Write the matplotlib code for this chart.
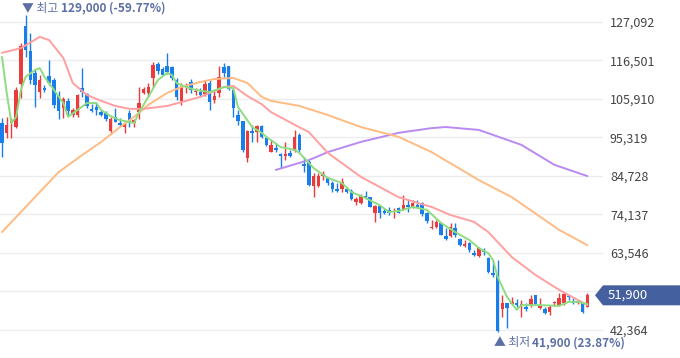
import matplotlib
matplotlib.use("Agg")
import matplotlib.pyplot as plt
from matplotlib.patches import Polygon
from matplotlib import transforms as mtransforms

plt.rcParams['font.family'] = ['Noto Sans CJK KR', 'DejaVu Sans']

# ---------------- data (daily OHLC) ----------------
opens = [99300, 96600, 99300, 98200, 110000, 126000, 119100, 113100, 107800, 108900,
         112200, 111100, 107000, 103400, 105400, 101500, 101500, 108900, 107300, 103200,
         103700, 102300, 102100, 97100, 101000, 99300, 98200, 102100, 99300, 102300,
         107600, 107600, 111700, 115500, 114200, 115000, 114700, 111100, 105400, 109200,
         110600, 107800, 107800, 107300, 110300, 105600, 107600, 114700, 115000, 108400,
         101500, 99900, 89700, 97100, 96800, 98500, 95200, 91300, 92400, 90800,
         90200, 91100, 91600, 96000, 88000, 88600, 82000, 82000, 84700, 84200,
         82800, 81200, 81200, 81200, 80600, 77600, 77300, 79200, 78900, 74500,
         76500, 75100, 75400, 74800, 75900, 75600, 76700, 76200, 76700, 77300,
         74500, 70400, 70700, 71800, 68200, 68200, 70400, 67400, 65500, 66300,
         63500, 62700, 64400, 62200, 58000, 57800, 48100, 49800, 49500, 49800,
         49000, 48700, 49000, 52000, 48400, 48100, 47300, 49800, 49200, 49800,
         51700, 50100, 49800, 49800, 48700]
highs = [100700, 101000, 100700, 109200, 121300, 129000, 124100, 113900, 112500, 109800,
         116600, 111700, 108100, 106500, 106200, 103400, 107300, 114400, 107600, 104500,
         104800, 102900, 102600, 101000, 103400, 100700, 99600, 102900, 100400, 109200,
         109200, 110300, 116100, 116100, 114700, 118600, 115000, 111700, 110300, 110300,
         111400, 108900, 108900, 111100, 111100, 108400, 115000, 115800, 115000, 108900,
         102900, 99900, 97400, 98800, 98800, 98800, 95700, 94600, 93800, 91100,
         94100, 91900, 97400, 96600, 90000, 89100, 85600, 85600, 86100, 84500,
         83400, 82800, 84200, 81700, 81200, 78900, 79800, 80600, 78900, 76700,
         76700, 75900, 76200, 75900, 76200, 79500, 78400, 78100, 78100, 77600,
         74800, 72600, 72600, 71800, 70400, 71800, 71800, 67700, 67100, 66600,
         64400, 65200, 64900, 62400, 61600, 61600, 52000, 49800, 51400, 50900,
         50600, 49800, 52000, 52000, 51200, 48700, 49200, 50300, 52500, 52500,
         52000, 51200, 50600, 50100, 52500]
lows = [90000, 95200, 95200, 97900, 106200, 117500, 110000, 103700, 106200, 107800,
        109800, 103400, 100400, 100700, 101500, 101000, 101000, 106500, 103400, 102300,
        101500, 101200, 99900, 96300, 99600, 98500, 96600, 98200, 98200, 100400,
        107300, 106500, 109200, 112800, 112500, 112800, 111100, 105600, 104300, 107600,
        107600, 107000, 106500, 106700, 102900, 104800, 106500, 112000, 108400, 101000,
        98800, 91300, 88600, 94100, 94100, 95200, 93000, 91300, 91300, 86900,
        89100, 90000, 91300, 91300, 85800, 82000, 78900, 81700, 83600, 82300,
        80300, 80300, 80300, 80100, 78100, 76700, 77000, 78400, 76200, 72100,
        73200, 74300, 74000, 73200, 74500, 75400, 74800, 75900, 76200, 73700,
        71800, 70100, 70400, 68500, 67100, 67900, 67900, 65500, 65200, 63800,
        62700, 62400, 63000, 58000, 56900, 41900, 45900, 42900, 49200, 48700,
        45900, 47600, 48700, 49200, 48100, 46800, 46500, 49000, 49000, 49200,
        50600, 49500, 49500, 47000, 48700]
closes = [93800, 98800, 100100, 108400, 120500, 119400, 111100, 109800, 111100, 108400,
          110300, 104300, 102600, 105900, 102600, 102900, 107000, 107800, 104000, 102600,
          102900, 101500, 100400, 100400, 99600, 98800, 98800, 99600, 100100, 104800,
          108700, 109200, 115300, 113600, 112500, 113300, 111700, 106500, 109500, 109500,
          108400, 108100, 107000, 110000, 105100, 106700, 112000, 113100, 108700, 103400,
          99900, 91900, 97100, 96600, 98500, 95500, 93300, 93300, 91900, 90200,
          90800, 90200, 95500, 91900, 87500, 82300, 84700, 84700, 85300, 82800,
          81200, 80600, 83100, 80300, 78400, 78400, 79200, 78700, 76200, 76500,
          74500, 74500, 74500, 75100, 74500, 76700, 76200, 77300, 76200, 74300,
          72300, 70700, 72100, 68500, 67400, 70700, 68500, 65700, 66000, 64400,
          63000, 64900, 63800, 58300, 57500, 42100, 49800, 48400, 50100, 49200,
          49500, 48100, 50900, 49500, 49200, 47000, 48700, 50100, 51200, 52300,
          51400, 49800, 50100, 47300, 51900]

# moving averages (day index, price)
ma5_idx = [0, 1, 2, 3, 4, 5, 7, 8, 9, 11, 13, 14, 16, 18, 20, 21, 23, 25, 28, 29,
           31, 33, 35, 36, 37, 39, 41, 44, 47, 49, 50, 53, 55, 56, 59, 62, 63, 66, 69, 72,
           74, 77, 80, 82, 84, 87, 90, 93, 96, 99, 101, 103, 104, 105, 107, 109, 110, 114,
           118, 120, 122, 124]
ma5_val = [117500, 107600, 99300, 101000, 108400, 112000, 113900, 114400, 112000, 108400,
           104800, 101000, 102900, 104800, 104800, 102900, 101200, 100100, 99300, 102100,
           106500, 111100, 113100, 112500, 110300, 109200, 108400, 107800, 109200, 108900,
           103700, 98200, 96600, 95500, 92700, 91900, 91100, 86900, 84200, 82800,
           80300, 78700, 76700, 74800, 75100, 76200, 75400, 71800, 69300, 67100,
           64900, 63500, 61600, 56900, 51400, 47900, 49200, 49200, 49000, 50100,
           50100, 49500]
ma20_idx = [0, 4, 8, 10, 13, 15, 18, 21, 24, 27, 30, 35, 39, 42, 45, 47, 49, 52, 55, 57,
            62, 65, 69, 76, 84, 91, 95, 100, 103, 108, 113, 118, 122, 124]
ma20_val = [118600, 119900, 123000, 122100, 117200, 110300, 107000, 105400, 104000, 103200,
            103200, 104000, 105400, 106500, 108100, 109200, 109500, 106700, 104500, 102300,
            98800, 96800, 91100, 84500, 78900, 76200, 74000, 72100, 69300, 62400,
            57500, 53400, 50600, 49200]
ma60_idx = [0, 4, 8, 12, 17, 21, 25, 28, 31, 35, 38, 42, 45, 49, 52, 55, 57, 63, 69, 76,
            84, 91, 101, 108, 118, 124]
ma60_val = [69300, 74800, 80300, 85800, 90500, 94100, 98200, 101000, 104300, 107600,
            109200, 110600, 111400, 111700, 110300, 106500, 105400, 104000, 101500, 98200,
            95500, 91300, 83600, 78900, 69900, 65700]
ma120_idx = [58, 65, 69, 76, 84, 91, 94, 101, 110, 117, 124]
ma120_val = [86400, 89100, 91300, 94100, 96600, 97900, 98200, 97400, 93300, 87800, 84700]

ytick_vals = [127092, 116501, 105910, 95319, 84728, 74137, 63546, 52955, 42364]

# ---------------- figure ----------------
W, H = 680, 358
fig = plt.figure(figsize=(W / 100, H / 100), dpi=100)
fig.patch.set_facecolor('white')
ax = fig.add_axes([0, (H - 340) / H, 603 / W, 340 / H])
ax.set_facecolor('white')

RED = '#ec3b3b'
BLUE = '#1a7dec'

n = len(closes)
xs = list(range(n))
for i in xs:
    o, h, l, c = opens[i], highs[i], lows[i], closes[i]
    col = RED if c >= o else BLUE
    ax.vlines(i, l, h, color=col, lw=1.0, zorder=2)
    lo, hi = min(o, c), max(o, c)
    ax.bar(i, max(hi - lo, 250), bottom=lo, width=0.74, color=col, lw=0, zorder=2)

line_kw = dict(lw=1.4, zorder=3, solid_joinstyle='round', solid_capstyle='round')
ax.plot(ma120_idx, ma120_val, color='#b98af2', **line_kw)
ax.plot(ma60_idx, ma60_val, color='#ffbb82', **line_kw)
ax.plot(ma20_idx, ma20_val, color='#ff9f9f', **line_kw)
ax.plot(ma5_idx, ma5_val, color='#8ddd80', **line_kw)

ax.set_xlim(-0.42, 127.3)
ax.set_ylim(39610, 133144)

ax.set_yticks(ytick_vals)
ax.set_yticklabels(['' if v == 52955 else f'{v:,}' for v in ytick_vals])
ax.yaxis.tick_right()
ax.tick_params(axis='y', length=0, pad=5, labelsize=9, labelcolor='#444444')
ax.set_xticks([])
ax.grid(axis='y', color='#ececec', lw=1)
ax.set_axisbelow(True)
for s in ax.spines.values():
    s.set_visible(False)

# high / low annotations
ih = max(range(n), key=lambda i: highs[i])
il = min(range(n), key=lambda i: lows[i])
hv, lv, last = highs[ih], lows[il], closes[-1]
ANN = '#5b6ea6'
t1 = ax.annotate('▼ 최고 ', xy=(ih, hv), xytext=(-2.5, 5), textcoords='offset points',
                 ha='left', va='center', fontsize=8.5, color=ANN, annotation_clip=False)
ax.annotate(f'{hv:,} ({(last - hv) / hv * 100:.2f}%)', xy=(1, 0), xycoords=t1,
            ha='left', va='bottom', fontsize=8.5, color=ANN, fontweight='bold')
t2 = ax.annotate('▲ 최저 ', xy=(il, lv), xytext=(-3, -8), textcoords='offset points',
                 ha='left', va='center', fontsize=8.5, color=ANN, annotation_clip=False)
ax.annotate(f'{lv:,} ({(last - lv) / lv * 100:.2f}%)', xy=(1, 0), xycoords=t2,
            ha='left', va='bottom', fontsize=8.5, color=ANN, fontweight='bold')

# last price tag
yc = ax.transData.transform((0, last))[1]
tag = Polygon([(595, yc), (603, yc + 10), (W, yc + 10), (W, yc - 10), (603, yc - 10)],
              closed=True, fc='#45609e', ec='none', transform=mtransforms.IdentityTransform(),
              zorder=5)
fig.patches.append(tag)
fig.text(608 / W, yc / H, f'{last:,}', color='white', fontsize=9.5, va='center', ha='left',
         zorder=6)

fig.savefig('out.png', dpi=100, facecolor='white')
